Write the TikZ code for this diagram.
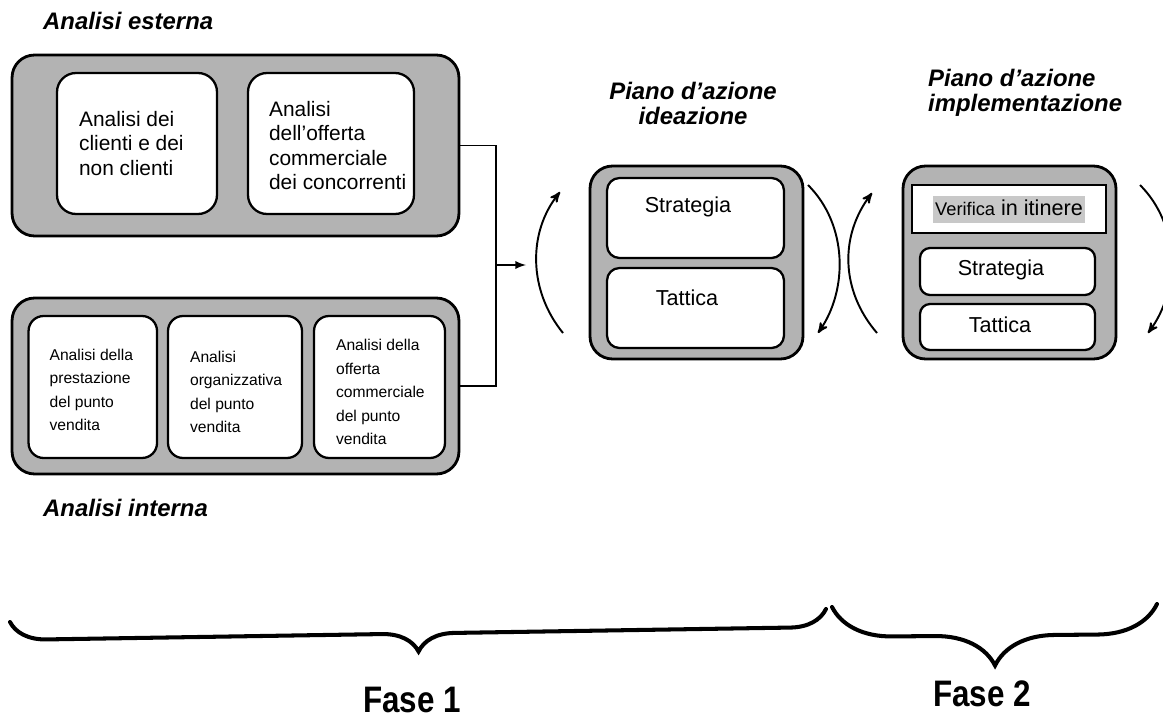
\documentclass[tikz,border=0pt]{standalone}
\usepackage{fontspec}
\setmainfont{Liberation Sans}
\newfontfamily\narrowfont[FakeStretch=0.85]{Liberation Sans}
\usetikzlibrary{decorations.pathreplacing}
\usetikzlibrary{shapes,arrows}
\definecolor{boxGray}{RGB}{179,179,179}
\definecolor{markGray}{RGB}{200,200,200}

\begin{document}
\begin{tikzpicture}[%
	x=0.02cm,y=-0.02cm,
	every node/.style={
		font=\fontsize{12.3}{14}\selectfont,
	},
	outerbox/.style={draw, line width=1.6pt, fill=boxGray, rounded corners=0.45cm},
	innerbox/.style={draw, line width=1.3pt, fill=white, rounded corners=0.3cm},
	headtext/.style={font=\fontsize{13.6}{14.2}\selectfont\bfseries\itshape},
	boxtext/.style={font=\fontsize{11.9}{14}\selectfont},
	smalltext/.style={font=\fontsize{8.9}{13.4}\selectfont},
	cyclearc/.style={line width=1.1pt, -stealth'},
	bracebig/.style={decorate, line width=2.3pt, line cap=round,
		decoration={brace, mirror, amplitude=#1}},
	]
	\useasboundingbox (0,0) rectangle (1163,720);
	
	% analisi esterna
	\node[headtext, anchor=base west] (extHead) at (37,30) {Analisi esterna};
	\node[outerbox, minimum width=8.94cm, minimum height=3.62cm] (ext) at (235.5,145.5) {};
	\node[innerbox, rounded corners=0.38cm, minimum width=3.2cm, minimum height=2.82cm] (ext1) at (137,143.5) {};
	\node[innerbox, rounded corners=0.38cm, minimum width=3.32cm, minimum height=2.82cm] (ext2) at (331,143.5) {};
	\node[boxtext, anchor=west, align=left] (ext1txt) at ([xshift=0.34cm]ext1.west) {Analisi dei\\clienti e dei\\non clienti};
	\node[boxtext, anchor=west, align=left] (ext2txt) at ([xshift=0.32cm,yshift=-0.04cm]ext2.west) {Analisi\\dell’offerta\\commerciale\\dei concorrenti};
	
	% analisi interna
	\node[outerbox, minimum width=8.94cm, minimum height=3.52cm] (int) at (235.5,386) {};
	\node[innerbox, minimum width=2.57cm, minimum height=2.84cm] (int1) at (92.8,387) {};
	\node[innerbox, minimum width=2.68cm, minimum height=2.84cm] (int2) at (235,387) {};
	\node[innerbox, minimum width=2.62cm, minimum height=2.84cm] (int3) at (379.5,387) {};
	\node[smalltext, anchor=west, align=left] (int1txt) at ([xshift=0.32cm,yshift=-0.06cm]int1.west) {Analisi della\\prestazione\\del punto\\vendita};
	\node[smalltext, anchor=west, align=left] (int2txt) at ([xshift=0.34cm,yshift=-0.1cm]int2.west) {Analisi\\organizzativa\\del punto\\vendita};
	\node[smalltext, anchor=west, align=left] (int3txt) at ([xshift=0.34cm,yshift=-0.1cm]int3.west) {Analisi della\\offerta\\commerciale\\del punto\\vendita};
	\node[headtext, anchor=base west] (intHead) at (37,516) {Analisi interna};
	
	% join the two analyses
	\coordinate (join) at (496,265);
	\coordinate (joinEnd) at (526,265);
	\draw[line width=1.1pt] (ext.east) -| (join);
	\draw[line width=1.1pt] (int.east) -| (join);
	\draw[line width=1.1pt, -latex] (join) -- (joinEnd);
	
	% piano d'azione ideazione
	\node[headtext, align=center] (ideaHead) at (693,103) {Piano d’azione\\ideazione};
	\node[outerbox, minimum width=4.26cm, minimum height=3.86cm] (idea) at (696.5,262.5) {};
	\node[innerbox, rounded corners=0.25cm, minimum width=3.54cm, minimum height=1.6cm] (ideaStr) at (695.5,218) {};
	\node[innerbox, rounded corners=0.25cm, minimum width=3.54cm, minimum height=1.6cm] (ideaTat) at (695.5,308) {};
	\node (ideaStrTxt) at (688,207) {Strategia};
	\node (ideaTatTxt) at (687,298) {Tattica};
	
	% cycle arrows round ideazione
	\coordinate (la1) at (563,333);
	\coordinate (la2) at (560,192);
	\coordinate (ra1) at (808,185);
	\coordinate (ra2) at (818,333);
	\draw[cyclearc] (la1) .. controls (528,290) and (528,232) .. (la2);
	\draw[cyclearc] (ra1) .. controls (848,225) and (848,290) .. (ra2);
	
	% piano d'azione implementazione
	\node[headtext, align=left, anchor=west] (implHead) at (922,93) {Piano d’azione\\implementazione};
	\node[outerbox, minimum width=4.26cm, minimum height=3.86cm] (impl) at (1009.5,262.5) {};
	\node[draw, line width=1.3pt, fill=white, minimum width=3.88cm, minimum height=0.96cm] (implVer) at (1009,209) {};
	\node[fill=markGray, inner xsep=1pt, inner ysep=0pt, text height=10.8pt, text depth=4.6pt, anchor=base] (implVerTxt) at (1009,215) {{\fontsize{10.4}{12}\selectfont Verifica} in itinere};
	\node[innerbox, rounded corners=0.2cm, minimum width=3.5cm, minimum height=0.94cm] (implStr) at (1007.5,271.5) {};
	\node[innerbox, rounded corners=0.2cm, minimum width=3.5cm, minimum height=0.92cm] (implTat) at (1007.5,327) {};
	\node (implStrTxt) at (1001,270) {Strategia};
	\node (implTatTxt) at (1000,325) {Tattica};
	
	% cycle arrows round implementazione
	\coordinate (pl1) at (877,333);
	\coordinate (pl2) at (872,193);
	\coordinate (pr1) at (1140,185);
	\coordinate (pr2) at (1148,333);
	\draw[cyclearc] (pl1) .. controls (840,290) and (840,235) .. (pl2);
	\draw[cyclearc] (pr1) .. controls (1180,225) and (1180,290) .. (pr2);
	
	% braces and phases
	\coordinate (b1s) at (10,622);
	\coordinate (b1e) at (826,609);
	\coordinate (b2s) at (832,607);
	\coordinate (b2e) at (1157,604);
	\draw[bracebig=0.72cm] (b1s) -- (b1e);
	\draw[bracebig=1.2cm] (b2s) -- (b2e);
	\node[font=\fontsize{21}{24}\selectfont\narrowfont\bfseries, anchor=base] (fase1) at (412,712) {Fase 1};
	\node[font=\fontsize{21}{24}\selectfont\narrowfont\bfseries, anchor=base] (fase2) at (982,706) {Fase 2};
\end{tikzpicture}
\end{document}
